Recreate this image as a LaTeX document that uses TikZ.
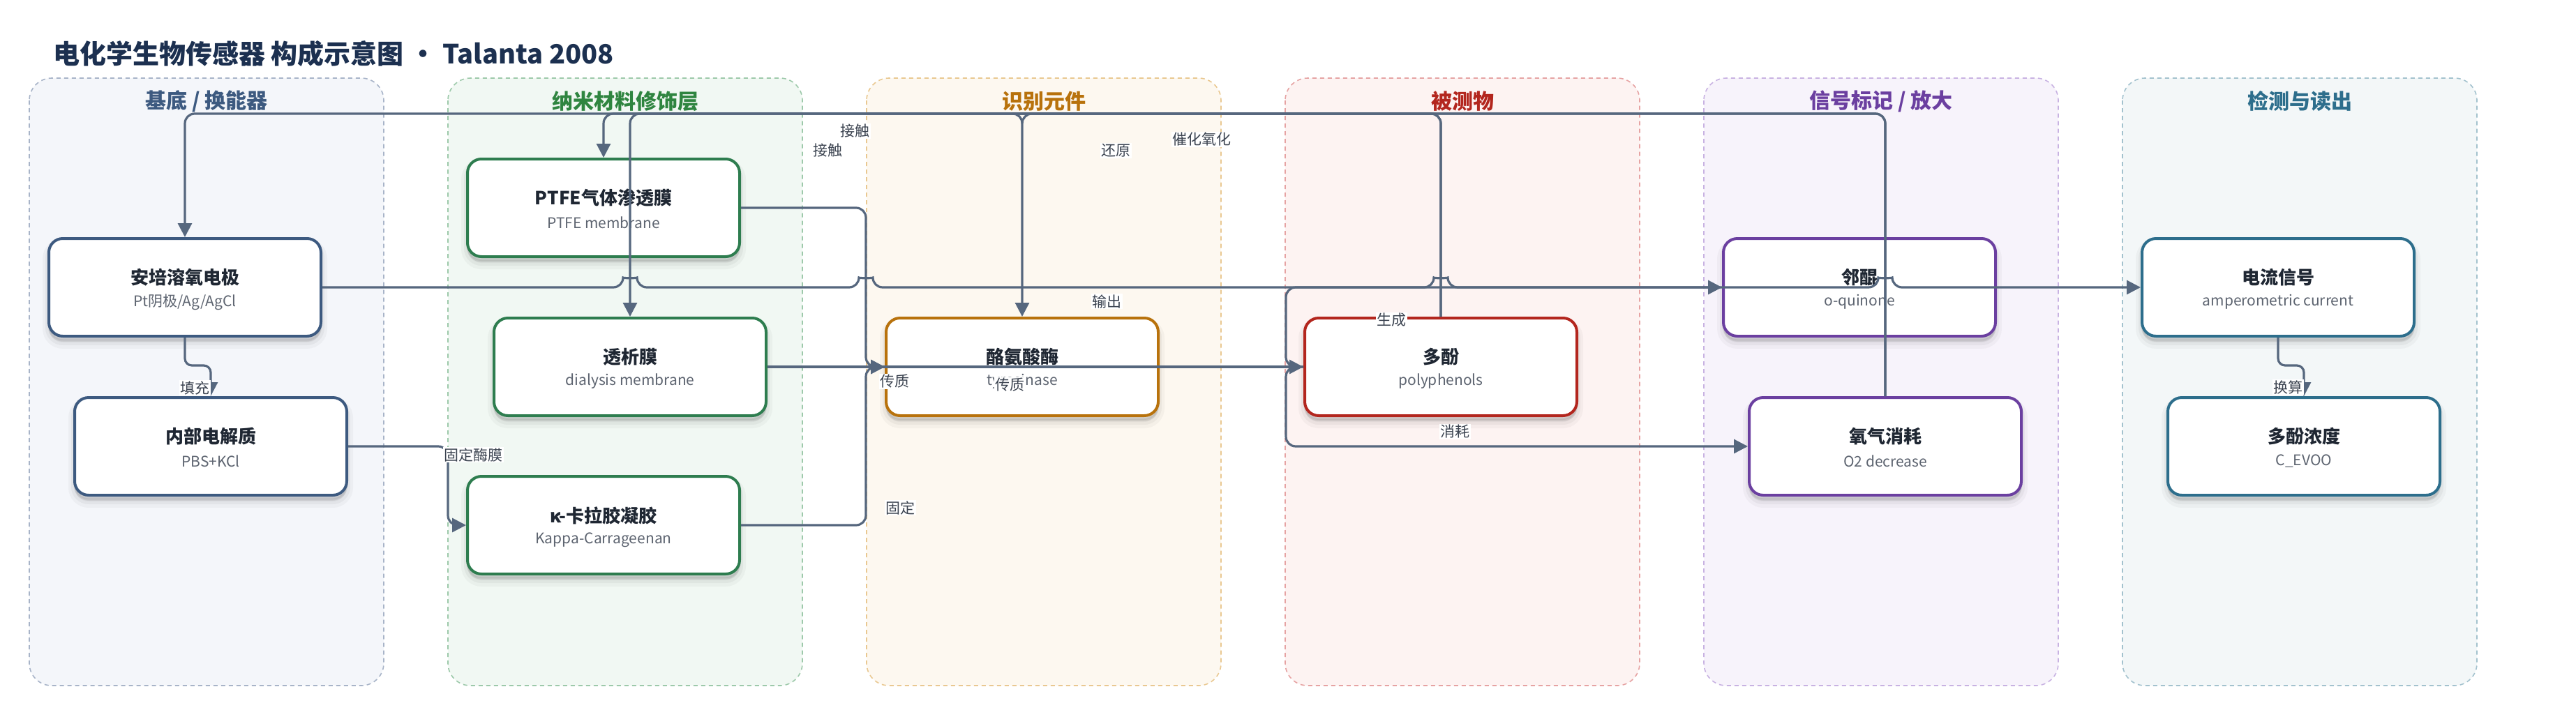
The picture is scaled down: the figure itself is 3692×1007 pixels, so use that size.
\documentclass[tikz,border=0pt]{standalone}
\usepackage{fontspec}
\setmainfont{Noto Sans CJK SC}
\usetikzlibrary{arrows.meta,shadows,calc}
\definecolor{edgec}{HTML}{56677E}
\definecolor{navy}{HTML}{1C3050}
\definecolor{ttlc}{HTML}{1F2733}
\definecolor{subc}{HTML}{5D6470}
\definecolor{lblc}{HTML}{3B4350}
\definecolor{fA}{HTML}{F4F6FA}\definecolor{bA}{HTML}{A8B4C8}\definecolor{cA}{HTML}{3D5A80}
\definecolor{fB}{HTML}{F1F8F3}\definecolor{bB}{HTML}{9DC9AA}\definecolor{cB}{HTML}{2E7D4F}\definecolor{tB}{HTML}{2F8540}
\definecolor{fC}{HTML}{FDF8F0}\definecolor{bC}{HTML}{E9C891}\definecolor{cC}{HTML}{B8720C}
\definecolor{fD}{HTML}{FDF3F2}\definecolor{bD}{HTML}{E6A3A3}\definecolor{cD}{HTML}{B3261E}
\definecolor{fE}{HTML}{F7F3FB}\definecolor{bE}{HTML}{C8B2E2}\definecolor{cE}{HTML}{6B3FA0}
\definecolor{fF}{HTML}{F3F7F8}\definecolor{bF}{HTML}{A3C2CE}\definecolor{cF}{HTML}{2D6E8C}
\tikzset{
  lane/.style 2 args={fill=#1, draw=#2, line width=1.6pt, dash pattern=on 6pt off 5pt, rounded corners=32pt},
  lanettl/.style={text=#1, font=\bfseries\fontsize{30}{36}\selectfont, inner sep=0pt},
  softshadow/.style={
    general shadow={fill=black, draw=black, opacity=0.03, line width=18pt, shadow yshift=-9pt},
    general shadow={fill=black, draw=black, opacity=0.04, line width=10pt, shadow yshift=-8pt},
    general shadow={fill=black, draw=black, opacity=0.05, line width=3pt, shadow yshift=-6pt}},
  box/.style={draw=#1, line width=4pt, fill=white, rounded corners=20pt, minimum width=390pt, minimum height=140pt, inner sep=0pt, softshadow},
  ttl/.style={text=ttlc, font=\bfseries\fontsize{26}{30}\selectfont, inner sep=0pt},
  sub/.style={text=subc, font=\fontsize{21}{25}\selectfont, inner sep=0pt},
  edgeline/.style={draw=edgec, line width=3.2pt, rounded corners=14pt},
  arr/.style={-{Triangle[length=20pt,width=20pt]}},
  lbl/.style={fill=white, text=lblc, font=\fontsize{21}{24}\selectfont, inner sep=1.5pt},
}
\newcommand\diagnode[6]{%
  \node[box=#4] (#1) at (#2,#3) {};
  \node[ttl] (#1-t) at ([yshift=14pt]#1.center) {#5};
  \node[sub] (#1-s) at ([yshift=-21pt]#1.center) {#6};
}
\begin{document}
\begin{tikzpicture}[x=1pt,y=-1pt]
\useasboundingbox (0,0) rectangle (3692,1007);
% lanes
\draw[lane={fA}{bA}] (42,112) rectangle (550,983);
\draw[lane={fB}{bB}] (642,112) rectangle (1150,983);
\draw[lane={fC}{bC}] (1242,112) rectangle (1750,983);
\draw[lane={fD}{bD}] (1842,112) rectangle (2350,983);
\draw[lane={fE}{bE}] (2442,112) rectangle (2950,983);
\draw[lane={fF}{bF}] (3042,112) rectangle (3550,983);
\node[lanettl=cA] (lt1) at (296,145) {基底 / 换能器};
\node[lanettl=tB] (lt2) at (896,145) {纳米材料修饰层};
\node[lanettl=cC] (lt3) at (1496,145) {识别元件};
\node[lanettl=cD] (lt4) at (2096,145) {被测物};
\node[lanettl=cE] (lt5) at (2696,145) {信号标记 / 放大};
\node[lanettl=cF] (lt6) at (3296,145) {检测与读出};
% title
\node[anchor=west, text=navy, font=\bfseries\fontsize{38}{44}\selectfont, inner sep=0pt] (title) at (76,77) {电化学生物传感器 构成示意图 · Talanta 2008};
% nodes
\diagnode{amp}{265}{412}{cA}{安培溶氧电极}{Pt阴极/Ag/AgCl}
\diagnode{ele}{302}{640}{cA}{内部电解质}{PBS+KCl}
\diagnode{ptfe}{865}{298}{cB}{PTFE气体渗透膜}{PTFE membrane}
\diagnode{dia}{903}{526}{cB}{透析膜}{dialysis membrane}
\diagnode{kap}{865}{753}{cB}{κ-卡拉胶凝胶}{Kappa-Carrageenan}
\diagnode{tyr}{1465}{526}{cC}{酪氨酸酶}{tyrosinase}
\diagnode{poly}{2065}{526}{cD}{多酚}{polyphenols}
\diagnode{oq}{2665}{412}{cE}{邻醌}{o-quinone}
\diagnode{otwo}{2702}{640}{cE}{氧气消耗}{O2 decrease}
\diagnode{cur}{3265}{412}{cF}{电流信号}{amperometric current}
\diagnode{conc}{3302}{640}{cF}{多酚浓度}{C\_EVOO}
% routing coordinates
\coordinate (bus) at (0,163);
\coordinate (jA) at (1241,526);
\coordinate (jB) at (1843,526);
\coordinate (jC) at (642,0);
\coordinate (jD) at (0,524);
% top bus edges
\draw[edgeline,arr] (otwo.north) -- (otwo.north |- bus) -- (amp.north |- bus) -- (amp.north);
\draw[edgeline,arr] (otwo.north) -- (otwo.north |- bus) -- (ptfe.north |- bus) -- (ptfe.north);
\draw[edgeline,arr] (poly.north) -- (poly.north |- bus) -- (dia.north |- bus) -- (dia.north);
\draw[edgeline,arr] (poly.north) -- (poly.north |- bus) -- (tyr.north |- bus) -- (tyr.north);
\coordinate (ty) at (tyr.north |- bus);
\draw[edgeline] ($(ty)+(-14,0)$) .. controls ($(ty)+(-6,0)$) and ($(ty)+(0,6)$) .. ($(ty)+(0,14)$);
% output line with hops
\coordinate (h1) at (dia.north |- amp.east);
\coordinate (h2) at (jA |- amp.east);
\coordinate (h3) at (poly.north |- amp.east);
\coordinate (h4) at (otwo.north |- amp.east);
\draw[edgeline,arr] (amp.east)
  -- ($(h1)+(-10,0)$) .. controls ($(h1)+(-10,-13)$) and ($(h1)+(10,-13)$) .. ($(h1)+(10,0)$)
  -- ($(h2)+(-10,0)$) .. controls ($(h2)+(-10,-13)$) and ($(h2)+(10,-13)$) .. ($(h2)+(10,0)$)
  -- ($(h3)+(-10,0)$) .. controls ($(h3)+(-10,-13)$) and ($(h3)+(10,-13)$) .. ($(h3)+(10,0)$)
  -- ($(h4)+(-10,0)$) .. controls ($(h4)+(-10,-13)$) and ($(h4)+(10,-13)$) .. ($(h4)+(10,0)$)
  -- (cur.west);
% membranes to enzyme / analyte
\draw[edgeline,arr] (ptfe.east) -- (jA |- ptfe.east) -- (jA) -- (tyr.west);
\draw[edgeline,arr] (kap.east) -- (jA |- kap.east) -- (jA) -- (tyr.west);
\draw[edgeline,arr] (dia.east) -- (poly.west);
\draw[edgeline,arr] (poly.west) -- (jB) -- (jB |- oq.west) -- (oq.west);
\draw[edgeline,arr] (poly.west) -- (jB) -- (jB |- otwo.west) -- (otwo.west);
\draw[edgeline,arr] (ele.east) -- (jC |- ele.east) -- (jC |- kap.west) -- (kap.west);
\draw[edgeline,arr,rounded corners=10pt] (amp.south) -- (amp.south |- jD) -- (ele.north |- jD) -- (ele.north);
\draw[edgeline,arr,rounded corners=10pt] (cur.south) -- (cur.south |- jD) -- (conc.north |- jD) -- (conc.north);
% labels
\node[lbl] (l1) at (279,556) {填充};
\node[lbl] (l2) at (678,652) {固定酶膜};
\node[lbl] (l3) at (1225,188) {接触};
\node[lbl] (l4) at (1186,216) {接触};
\node[lbl] (l5) at (1599,216) {还原};
\node[lbl] (l6) at (1722,200) {催化氧化};
\node[lbl] (l7) at (1586,432) {输出};
\node[lbl] (l8) at (1994,459) {生成};
\node[lbl] (l9) at (1282,547) {传质};
\node[lbl] (l10) at (1447,552) {传质};
\node[lbl] (l11) at (1290,728) {固定};
\node[lbl] (l12) at (2085,619) {消耗};
\node[lbl] (l13) at (3279,555) {换算};
\end{tikzpicture}
\end{document}
